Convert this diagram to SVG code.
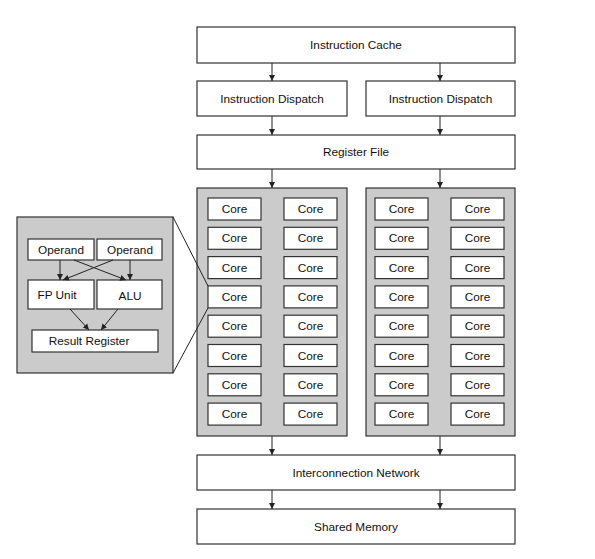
<svg xmlns="http://www.w3.org/2000/svg" width="595" height="559" viewBox="0 0 595 559">
<style>
.box{fill:#fff;stroke:#333;stroke-width:1.2}
.panel{fill:#cbcbcb;stroke:#333;stroke-width:1.2}
.t{font-family:"Liberation Sans",Arial,sans-serif;font-size:11.8px;fill:#111;text-anchor:middle;dominant-baseline:central}
.c{stroke:#222;stroke-width:1;fill:none}
</style>
<defs>
<marker id="ah" viewBox="0 0 6 8" refX="6" refY="4" markerWidth="6" markerHeight="8" markerUnits="userSpaceOnUse" orient="auto">
<path d="M0,1 L6,4 L0,7 Z" fill="#222"/>
</marker>
</defs>
<rect width="595" height="559" fill="#fff"/>
<g id="icache"><rect class="box" x="197" y="27" width="318" height="36"/><text class="t" x="356" y="45">Instruction Cache</text></g>
<g id="dispatch1"><rect class="box" x="197" y="81" width="150" height="35"/><text class="t" x="272" y="98.5">Instruction Dispatch</text></g>
<g id="dispatch2"><rect class="box" x="366" y="81" width="149" height="35"/><text class="t" x="440.5" y="98.5">Instruction Dispatch</text></g>
<g id="regfile"><rect class="box" x="197" y="135" width="318" height="34"/><text class="t" x="356" y="152">Register File</text></g>
<g id="cores1">
<rect class="panel" x="197" y="188" width="150" height="248"/>
<g id="c1">
<rect class="box" x="208" y="198" width="53" height="22"/><text class="t" x="234.5" y="209">Core</text>
<rect class="box" x="208" y="227.3" width="53" height="22"/><text class="t" x="234.5" y="238.3">Core</text>
<rect class="box" x="208" y="256.6" width="53" height="22"/><text class="t" x="234.5" y="267.6">Core</text>
<rect class="box" x="208" y="285.9" width="53" height="22"/><text class="t" x="234.5" y="296.9">Core</text>
<rect class="box" x="208" y="315.2" width="53" height="22"/><text class="t" x="234.5" y="326.2">Core</text>
<rect class="box" x="208" y="344.5" width="53" height="22"/><text class="t" x="234.5" y="355.5">Core</text>
<rect class="box" x="208" y="373.8" width="53" height="22"/><text class="t" x="234.5" y="384.8">Core</text>
<rect class="box" x="208" y="403.1" width="53" height="22"/><text class="t" x="234.5" y="414.1">Core</text>
<rect class="box" x="284" y="198" width="53" height="22"/><text class="t" x="310.5" y="209">Core</text>
<rect class="box" x="284" y="227.3" width="53" height="22"/><text class="t" x="310.5" y="238.3">Core</text>
<rect class="box" x="284" y="256.6" width="53" height="22"/><text class="t" x="310.5" y="267.6">Core</text>
<rect class="box" x="284" y="285.9" width="53" height="22"/><text class="t" x="310.5" y="296.9">Core</text>
<rect class="box" x="284" y="315.2" width="53" height="22"/><text class="t" x="310.5" y="326.2">Core</text>
<rect class="box" x="284" y="344.5" width="53" height="22"/><text class="t" x="310.5" y="355.5">Core</text>
<rect class="box" x="284" y="373.8" width="53" height="22"/><text class="t" x="310.5" y="384.8">Core</text>
<rect class="box" x="284" y="403.1" width="53" height="22"/><text class="t" x="310.5" y="414.1">Core</text>
</g>
</g>
<g id="cores2">
<rect class="panel" x="366" y="188" width="149" height="248"/>
<rect class="box" x="375" y="198" width="53" height="22"/><text class="t" x="401.5" y="209">Core</text>
<rect class="box" x="375" y="227.3" width="53" height="22"/><text class="t" x="401.5" y="238.3">Core</text>
<rect class="box" x="375" y="256.6" width="53" height="22"/><text class="t" x="401.5" y="267.6">Core</text>
<rect class="box" x="375" y="285.9" width="53" height="22"/><text class="t" x="401.5" y="296.9">Core</text>
<rect class="box" x="375" y="315.2" width="53" height="22"/><text class="t" x="401.5" y="326.2">Core</text>
<rect class="box" x="375" y="344.5" width="53" height="22"/><text class="t" x="401.5" y="355.5">Core</text>
<rect class="box" x="375" y="373.8" width="53" height="22"/><text class="t" x="401.5" y="384.8">Core</text>
<rect class="box" x="375" y="403.1" width="53" height="22"/><text class="t" x="401.5" y="414.1">Core</text>
<rect class="box" x="451" y="198" width="53" height="22"/><text class="t" x="477.5" y="209">Core</text>
<rect class="box" x="451" y="227.3" width="53" height="22"/><text class="t" x="477.5" y="238.3">Core</text>
<rect class="box" x="451" y="256.6" width="53" height="22"/><text class="t" x="477.5" y="267.6">Core</text>
<rect class="box" x="451" y="285.9" width="53" height="22"/><text class="t" x="477.5" y="296.9">Core</text>
<rect class="box" x="451" y="315.2" width="53" height="22"/><text class="t" x="477.5" y="326.2">Core</text>
<rect class="box" x="451" y="344.5" width="53" height="22"/><text class="t" x="477.5" y="355.5">Core</text>
<rect class="box" x="451" y="373.8" width="53" height="22"/><text class="t" x="477.5" y="384.8">Core</text>
<rect class="box" x="451" y="403.1" width="53" height="22"/><text class="t" x="477.5" y="414.1">Core</text>
</g>
<g id="network"><rect class="box" x="197" y="455" width="318" height="35"/><text class="t" x="356" y="472.5">Interconnection Network</text></g>
<g id="memory"><rect class="box" x="197" y="509" width="318" height="35"/><text class="t" x="356" y="526.5">Shared Memory</text></g>
<g id="inset">
<rect class="panel" x="17" y="217" width="156" height="156"/>
<g id="op1"><rect class="box" x="28" y="239" width="66" height="21"/><text class="t" x="61" y="249.5">Operand</text></g>
<g id="op2"><rect class="box" x="97" y="239" width="65" height="21"/><text class="t" x="130" y="249.5">Operand</text></g>
<g id="fpu"><rect class="box" x="28" y="280" width="66" height="29"/><text class="t" x="57" y="295">FP Unit</text></g>
<g id="alu"><rect class="box" x="97" y="280" width="65" height="29"/><text class="t" x="130" y="296">ALU</text></g>
<g id="result"><rect class="box" x="32" y="330" width="126" height="22"/><text class="t" x="89" y="341">Result Register</text></g>
</g>
<g id="connectors">
<line class="c" x1="272" y1="63" x2="272" y2="81" marker-end="url(#ah)"/>
<line class="c" x1="440" y1="63" x2="440" y2="81" marker-end="url(#ah)"/>
<line class="c" x1="272" y1="116" x2="272" y2="135" marker-end="url(#ah)"/>
<line class="c" x1="440" y1="116" x2="440" y2="135" marker-end="url(#ah)"/>
<line class="c" x1="272" y1="169" x2="272" y2="188" marker-end="url(#ah)"/>
<line class="c" x1="440" y1="169" x2="440" y2="188" marker-end="url(#ah)"/>
<line class="c" x1="272" y1="436" x2="272" y2="455" marker-end="url(#ah)"/>
<line class="c" x1="440" y1="436" x2="440" y2="455" marker-end="url(#ah)"/>
<line class="c" x1="272" y1="490" x2="272" y2="509" marker-end="url(#ah)"/>
<line class="c" x1="440" y1="490" x2="440" y2="509" marker-end="url(#ah)"/>
<line class="c" x1="60" y1="260" x2="60" y2="280" marker-end="url(#ah)"/>
<line class="c" x1="130" y1="260" x2="130" y2="280" marker-end="url(#ah)"/>
<line class="c" x1="74" y1="260" x2="126" y2="280" marker-end="url(#ah)"/>
<line class="c" x1="113" y1="260" x2="63" y2="280" marker-end="url(#ah)"/>
<line class="c" x1="70" y1="309" x2="89" y2="330" marker-end="url(#ah)"/>
<line class="c" x1="118" y1="309" x2="101" y2="330" marker-end="url(#ah)"/>
<line class="c" x1="173" y1="217" x2="208" y2="286"/>
<line class="c" x1="173" y1="373" x2="208" y2="308"/>
</g>
</svg>
